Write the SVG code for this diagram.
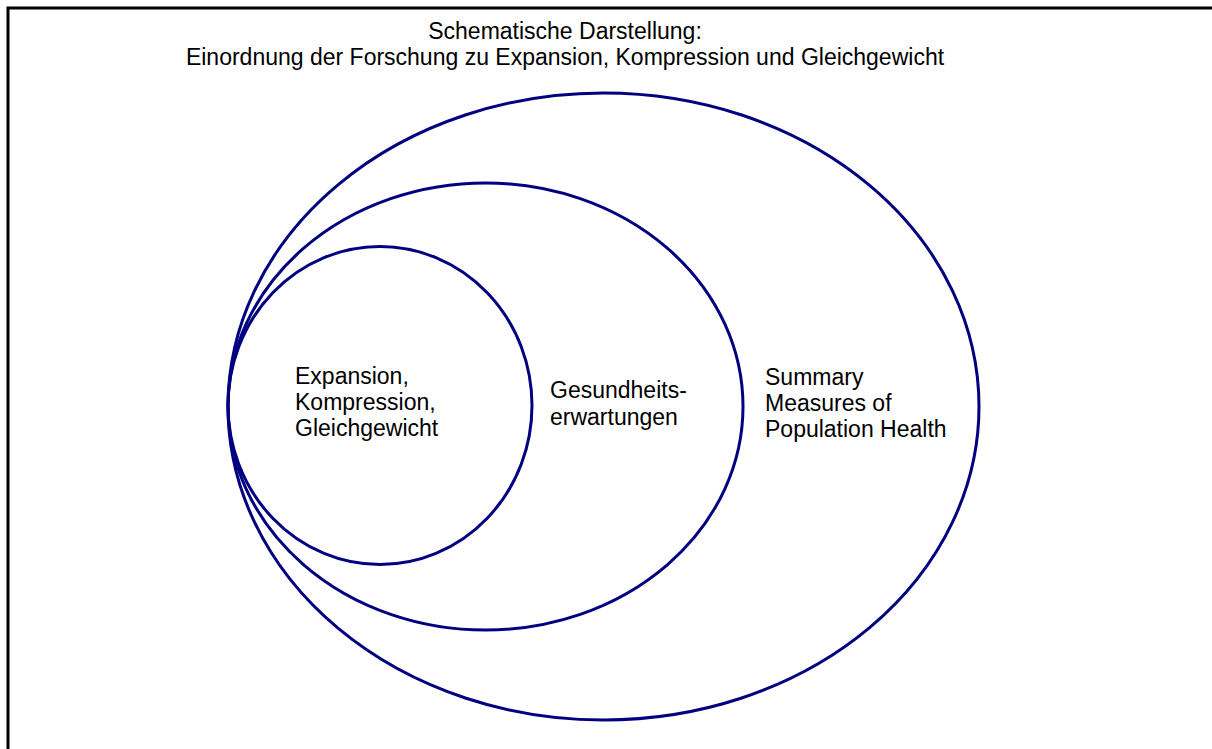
<svg xmlns="http://www.w3.org/2000/svg" width="1212" height="749" viewBox="0 0 1212 749">
  <style>
    .ring { fill: none; stroke: #000080; stroke-width: 3; }
    .lbl { font-family: "Liberation Sans", Arial, sans-serif; font-size: 23px; fill: #000000; }
    .frame { fill: #ffffff; stroke: #000000; stroke-width: 3; }
  </style>
  <rect class="frame" x="8" y="8" width="1220" height="760"/>
  <g id="title">
    <text class="lbl" x="565" y="39" text-anchor="middle">Schematische Darstellung:</text>
    <text class="lbl" x="565" y="65" text-anchor="middle">Einordnung der Forschung zu Expansion, Kompression und Gleichgewicht</text>
  </g>
  <g id="node-summary-measures">
    <ellipse class="ring" cx="603.5" cy="406.5" rx="375.5" ry="313.5"/>
    <text class="lbl" x="765" y="385">Summary</text>
    <text class="lbl" x="765" y="411">Measures of</text>
    <text class="lbl" x="765" y="437">Population Health</text>
  </g>
  <g id="node-gesundheitserwartungen">
    <ellipse class="ring" cx="485.5" cy="406.5" rx="257.5" ry="223.5"/>
    <text class="lbl" x="550" y="398">Gesundheits-</text>
    <text class="lbl" x="550" y="425">erwartungen</text>
  </g>
  <g id="node-expansion">
    <ellipse class="ring" cx="380" cy="405.5" rx="152" ry="159"/>
    <text class="lbl" x="295" y="384">Expansion,</text>
    <text class="lbl" x="295" y="410">Kompression,</text>
    <text class="lbl" x="295" y="436">Gleichgewicht</text>
  </g>
  <g id="connectors"/>
</svg>
